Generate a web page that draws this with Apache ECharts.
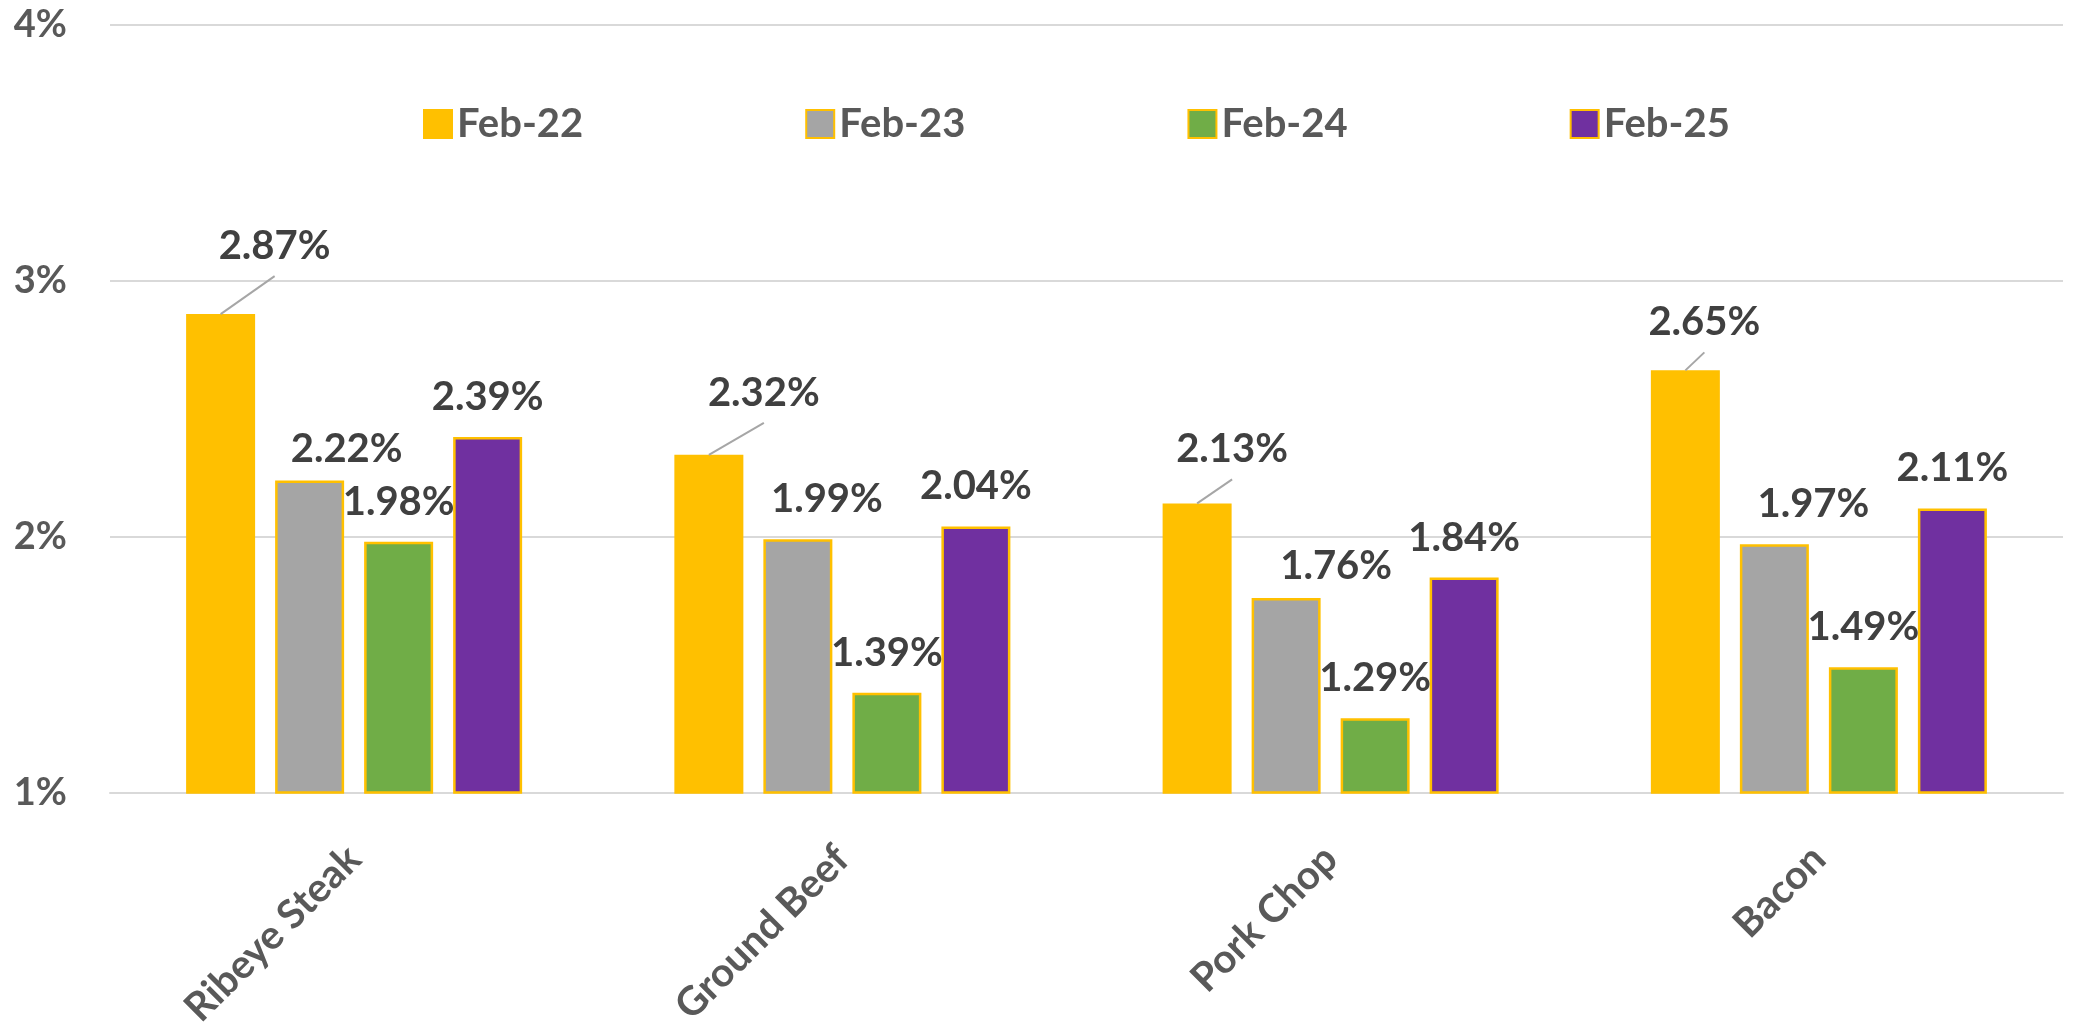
<!DOCTYPE html>
<html>
<head>
<meta charset="utf-8">
<title>Meat price change</title>
<script src="https://cdn.jsdelivr.net/npm/echarts@6/dist/echarts.min.js"></script>
<style>
  html, body { margin: 0; padding: 0; background: #fff; }
  #main { width: 2080px; height: 1031px; }
</style>
</head>
<body>
<div id="main"></div>
<script>
// data
const categories = ["Ribeye Steak", "Ground Beef", "Pork Chop", "Bacon"];
const seriesNames = ["Feb-22", "Feb-23", "Feb-24", "Feb-25"];
const feb22 = [2.87, 2.32, 2.13, 2.65];
const feb23 = [2.22, 1.99, 1.76, 1.97];
const feb24 = [1.98, 1.39, 1.29, 1.49];
const feb25 = [2.39, 2.04, 1.84, 2.11];
const yTicks = [1, 2, 3, 4];

// label nudges (as placed in the original chart)
const feb22LabelShift = [[54, -28], [55, -22], [35, -14], [19, -8]];
const feb23LabelShift = [[37, 9], [29, 0], [50, 8], [39, 0]];

const font = "Lato";
const colors = ["#FFC000", "#A5A5A5", "#70AD47", "#7030A0"];
const barW = 69;
const barGapPx = 20;

const chartDom = document.getElementById("main");
const myChart = echarts.init(chartDom);

function makeSeries(idx, values, shift) {
  const s = {
    name: seriesNames[idx],
    type: "bar",
    data: values,
    barWidth: barW,
    barGap: (barGapPx / barW * 100).toFixed(1) + "%",
    itemStyle: {
      color: colors[idx],
      borderColor: "#FFC000",
      borderWidth: 2.5
    },
    label: {
      show: true,
      position: "top",
      distance: 20,
      fontFamily: font,
      fontWeight: "bold",
      fontSize: 40,
      color: "#404040",
      formatter: (p) => p.value.toFixed(2) + "%"
    }
  };
  if (shift) {
    s.labelLayout = (p) => ({ dx: shift[p.dataIndex][0], dy: shift[p.dataIndex][1] });
  }
  return s;
}

// leader lines from the first bar in each group up to its moved label
const leaderLines = {
  type: "custom",
  data: feb22.map((v, i) => [i, v]),
  z: 5,
  silent: true,
  renderItem: (params, api) => {
    const i = params.dataIndex;
    const p = api.coord([api.value(0), api.value(1)]);
    const x0 = p[0] - 1.5 * (barW + barGapPx);
    return {
      type: "line",
      shape: {
        x1: x0,
        y1: p[1],
        x2: x0 + feb22LabelShift[i][0],
        y2: p[1] + feb22LabelShift[i][1] - 10
      },
      style: { stroke: "#A6A6A6", lineWidth: 2 }
    };
  }
};

const option = {
  animation: false,
  grid: { left: 110, right: 17, top: 25, bottom: 233 },
  legend: {
    data: seriesNames,
    left: 418,
    top: 99,
    icon: "rect",
    itemWidth: 28,
    itemHeight: 28,
    itemGap: 222,
    textStyle: { fontFamily: font, fontWeight: "bold", fontSize: 40, color: "#595959" }
  },
  xAxis: {
    type: "category",
    data: categories,
    axisLine: { lineStyle: { color: "#D9D9D9", width: 2 } },
    axisTick: { show: false },
    axisLabel: {
      rotate: 45,
      margin: 60,
      fontFamily: font,
      fontWeight: "bold",
      fontSize: 40,
      color: "#595959"
    }
  },
  yAxis: {
    type: "value",
    min: yTicks[0],
    max: yTicks[yTicks.length - 1],
    interval: 1,
    axisLine: { show: false },
    axisTick: { show: false },
    splitLine: { lineStyle: { color: "#D9D9D9", width: 2 } },
    axisLabel: {
      margin: 43,
      formatter: "{value}%",
      fontFamily: font,
      fontWeight: "bold",
      fontSize: 38,
      color: "#595959"
    }
  },
  series: [
    makeSeries(0, feb22, feb22LabelShift),
    makeSeries(1, feb23, feb23LabelShift),
    makeSeries(2, feb24),
    makeSeries(3, feb25),
    leaderLines
  ]
};

option && myChart.setOption(option);
</script>
</body>
</html>
